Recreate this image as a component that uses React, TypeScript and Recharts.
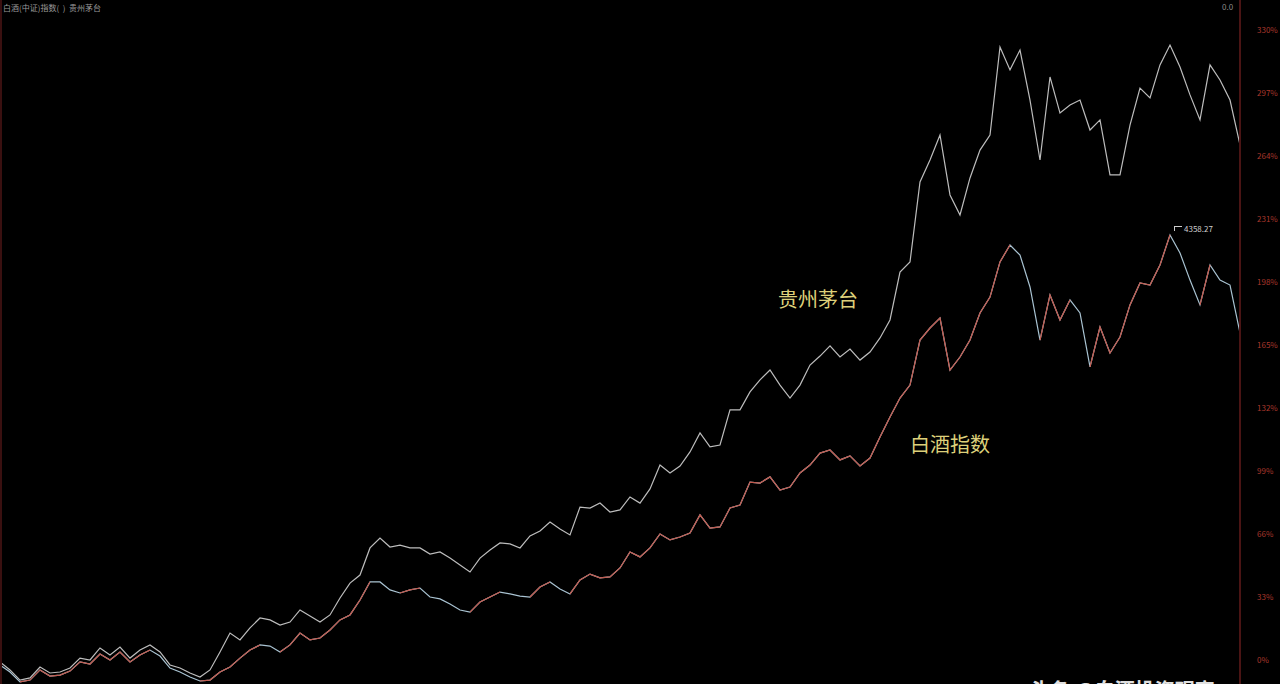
import React from 'react';
import { LineChart, Line, XAxis, YAxis } from 'recharts';

// trading-period index (uniform spacing)
const periods: number[] = Array.from({ length: 125 }, (_, i) => i);

// 贵州茅台 cumulative return (%)
const moutai: number[] = [
  -1.0, -5.2, -10.5, -9.4, -3.7, -6.8, -6.3, -4.2, 1.0, 0, 6.3, 2.6, 6.8, 1.0, 5.2, 7.9, 4.2, -2.6, -4.2, -6.8,
  -8.9, -5.2, 4.2, 14.1, 10.5, 16.8, 22.0, 21.0, 18.3, 19.9, 26.2, 23.0, 19.9, 23.6, 32.5, 40.3, 44.5, 58.7, 63.9, 59.2,
  60.2, 58.7, 58.7, 55.5, 56.6, 53.4, 49.8, 46.1, 53.4, 57.6, 61.3, 60.8, 58.7, 65.0, 67.6, 72.3, 68.6, 65.5, 80.1, 79.6,
  82.2, 77.5, 78.6, 85.4, 82.2, 89.6, 102.1, 98.0, 101.6, 109.0, 118.9, 111.6, 112.6, 131.0, 131.0, 140.4, 146.7, 151.9, 144.0, 137.2,
  144.0, 154.5, 159.2, 164.5, 158.7, 162.9, 157.1, 161.3, 168.7, 178.1, 203.2, 208.5, 250.4, 261.9, 275.0, 243.6, 233.1, 252.5, 267.1, 275.0,
  321.1, 309.1, 319.5, 293.3, 261.9, 305.4, 286.5, 290.7, 293.3, 277.6, 282.9, 254.1, 254.1, 280.2, 299.6, 294.4, 311.7, 322.1, 310.6, 296.0,
  282.9, 311.7, 303.8, 293.3, 269.8,
];

// 白酒指数 cumulative return (%)
const baijiu: number[] = [
  -2.6, -6.3, -11.5, -10.5, -5.2, -8.4, -7.9, -5.8, -1.0, -2.1, 3.1, 0, 4.2, -1.0, 2.6, 5.2, 2.1, -4.2, -6.3, -8.9,
  -11.0, -10.5, -6.3, -3.7, 1.0, 5.2, 7.9, 7.3, 4.2, 7.9, 14.1, 10.5, 11.5, 15.7, 21.0, 23.6, 31.4, 40.9, 40.9, 36.7,
  35.1, 36.7, 37.7, 33.0, 32.0, 29.3, 26.2, 25.1, 30.4, 33.0, 35.6, 34.6, 33.5, 33.0, 38.2, 40.9, 37.2, 34.6, 41.9, 45.0,
  43.0, 43.5, 48.2, 56.6, 54.0, 58.7, 66.0, 62.9, 64.4, 66.5, 76.0, 69.1, 69.7, 79.6, 81.2, 93.2, 92.7, 95.9, 89.0, 90.6,
  98.0, 102.1, 108.4, 110.0, 104.8, 106.9, 101.6, 105.8, 116.8, 127.3, 137.2, 144.0, 167.6, 173.9, 179.1, 151.9, 158.7, 167.6, 181.8, 190.1,
  208.5, 217.4, 212.1, 195.4, 167.6, 191.2, 178.1, 188.6, 181.8, 153.5, 174.4, 160.8, 169.2, 186.0, 197.5, 196.4, 206.9, 222.6, 213.2, 199.0,
  186.0, 206.9, 199.0, 196.4, 171.3,
];

const yTicks: number[] = [0, 33, 66, 99, 132, 165, 198, 231, 264, 297, 330];

const data = periods.map((t, i) => {
  const v = baijiu[i];
  const up =
    (i > 0 && v > baijiu[i - 1]) || (i < baijiu.length - 1 && baijiu[i + 1] > v);
  return { t, moutai: moutai[i], baijiu: v, baijiuUp: up ? v : null };
});

const font = '"Noto Sans CJK SC", "Noto Sans", sans-serif';

export default function App() {
  return (
    <div
      style={{
        position: 'absolute',
        left: 0,
        top: 0,
        width: 1280,
        height: 684,
        background: '#000',
        overflow: 'hidden',
        fontFamily: font,
      }}
    >
      <LineChart
        width={1280}
        height={684}
        data={data}
        margin={{ top: 0, right: 0, bottom: 0, left: 0 }}
      >
        <XAxis dataKey="t" type="number" domain={[0, 124]} hide />
        <YAxis
          orientation="right"
          width={40}
          type="number"
          domain={[-12.57, 345.71]}
          allowDataOverflow
          ticks={yTicks}
          interval={0}
          tickFormatter={(v: number) => `${v}%`}
          tick={{ fill: '#a8372c', fontSize: 8, fontFamily: font }}
          tickLine={false}
          tickMargin={11}
          axisLine={{ stroke: '#4a1414', strokeWidth: 2 }}
        />
        <Line
          dataKey="moutai"
          stroke="#bdbdbd"
          strokeWidth={1.2}
          dot={false}
          type="linear"
          isAnimationActive={false}
        />
        <Line
          dataKey="baijiu"
          stroke="#a9c3d2"
          strokeWidth={1.2}
          dot={false}
          type="linear"
          isAnimationActive={false}
        />
        <Line
          dataKey="baijiuUp"
          stroke="#c25a4e"
          strokeWidth={1.2}
          dot={false}
          type="linear"
          connectNulls={false}
          isAnimationActive={false}
        />
      </LineChart>

      {/* left border */}
      <div style={{ position: 'absolute', left: 0, top: 0, width: 2, height: 684, background: '#3a1010' }} />

      {/* header */}
      <div style={{ position: 'absolute', left: 3, top: 2, fontSize: 8, color: '#9a9a9a', whiteSpace: 'nowrap' }}>
        白酒(中证)指数(&nbsp;&nbsp;) &nbsp;贵州茅台
      </div>
      <div style={{ position: 'absolute', left: 1222, top: 1, fontSize: 8, color: '#8a8a8a' }}>0.0</div>

      {/* series labels */}
      <div style={{ position: 'absolute', left: 778, top: 284, fontSize: 20, color: '#ddd07a', whiteSpace: 'nowrap' }}>
        贵州茅台
      </div>
      <div style={{ position: 'absolute', left: 910, top: 429, fontSize: 20, color: '#ddd07a', whiteSpace: 'nowrap' }}>
        白酒指数
      </div>

      {/* peak annotation */}
      <div style={{ position: 'absolute', left: 1174, top: 226, width: 7, height: 4, borderTop: '1px solid #ccc', borderLeft: '1px solid #ccc' }} />
      <div style={{ position: 'absolute', left: 1184, top: 223, fontSize: 8, color: '#cfcfcf' }}>4358.27</div>

      {/* watermark (cut off at the bottom edge) */}
      <div style={{ position: 'absolute', left: 1030, top: 675, fontSize: 20, fontWeight: 700, color: '#e0e0e0', whiteSpace: 'nowrap' }}>
        头条 @白酒投资观察
      </div>
    </div>
  );
}
